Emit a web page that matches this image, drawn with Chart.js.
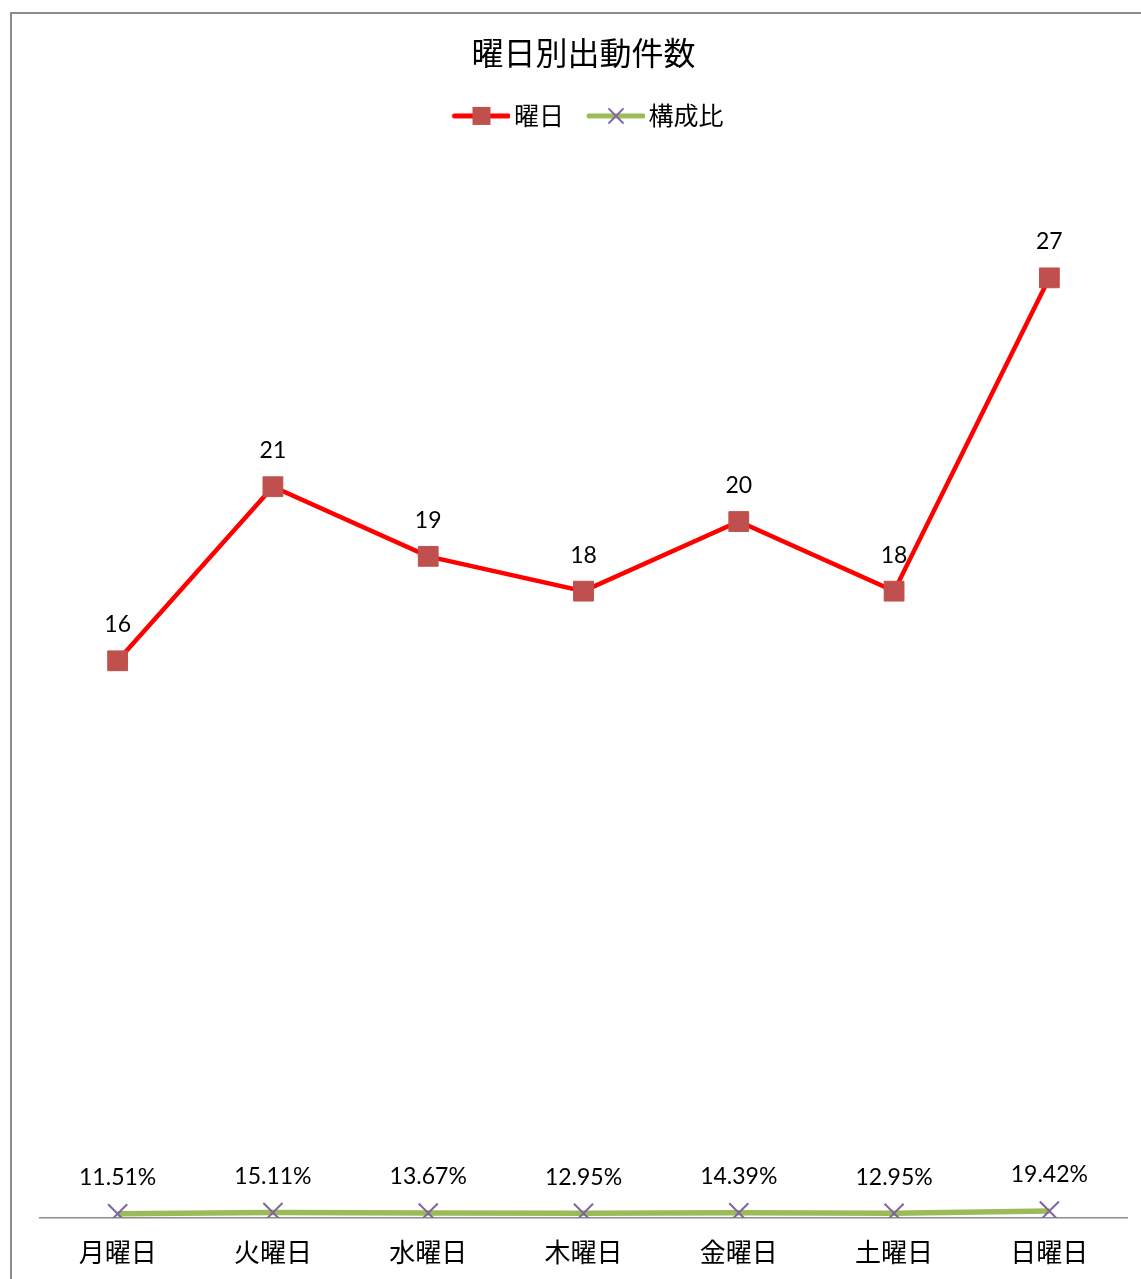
<!DOCTYPE html>
<html>
<head>
<meta charset="utf-8">
<script src="https://cdn.jsdelivr.net/npm/chart.js@4.4.0/dist/chart.umd.min.js"></script>
<style>
  html, body { margin: 0; padding: 0; background: #fff; overflow: hidden; }
  body { width: 1141px; height: 1279px; position: relative; }
  .frame {
    position: absolute; left: 10px; top: 12px; width: 1200px; height: 1300px;
    border-left: 2px solid #8c8c8c; border-top: 2px solid #8c8c8c; box-sizing: border-box;
  }
  .wrap { position: absolute; left: 11px; top: 13px; width: 1144px; height: 1285px; }
</style>
</head>
<body>
<div class="frame"></div>
<div class="wrap"><canvas id="dayChart"></canvas></div>
<script>
const days = ['月曜日', '火曜日', '水曜日', '木曜日', '金曜日', '土曜日', '日曜日'];
const counts = [16, 21, 19, 18, 20, 18, 27];
const shares = [0.1151, 0.1511, 0.1367, 0.1295, 0.1439, 0.1295, 0.1942];

const FONT = "Lato, 'Noto Sans CJK JP', sans-serif";
const CJK = "'Noto Sans CJK JP', sans-serif";

// legend swatch: line with the marker on it (drawn a bit right so text sits close)
function swatch(lineColor, drawMarker) {
  const c = document.createElement('canvas');
  c.width = 76; c.height = 22;
  const g = c.getContext('2d');
  g.strokeStyle = lineColor;
  g.lineWidth = 5;
  g.lineCap = 'round';
  g.beginPath(); g.moveTo(20, 11); g.lineTo(74, 11); g.stroke();
  drawMarker(g);
  return c;
}
const redSwatch = swatch('#ff0000', g => {
  g.fillStyle = '#c0504d';
  g.fillRect(38, 2, 18, 18);
});
const greenSwatch = swatch('#9bbb59', g => {
  g.strokeStyle = '#8064a2';
  g.lineWidth = 1.8;
  g.beginPath();
  g.moveTo(40, 4); g.lineTo(54, 18);
  g.moveTo(54, 4); g.lineTo(40, 18);
  g.stroke();
});

const valueLabels = {
  id: 'valueLabels',
  afterDatasetsDraw(chart) {
    const ctx = chart.ctx;
    ctx.save();
    ctx.font = '23px ' + FONT;
    ctx.fillStyle = '#000';
    ctx.textAlign = 'center';
    ctx.textBaseline = 'middle';
    chart.data.datasets.forEach((ds, i) => {
      const meta = chart.getDatasetMeta(i);
      meta.data.forEach((pt, j) => {
        const v = ds.data[j];
        const txt = i === 0 ? String(v) : (v * 100).toFixed(2) + '%';
        ctx.fillText(txt, pt.x, pt.y - 36);
      });
    });
    ctx.restore();
  }
};

const legendGap = {
  id: 'legendGap',
  beforeInit(chart) {
    const fit = chart.legend.fit;
    chart.legend.fit = function () {
      fit.call(this);
      this.height += 35;
    };
  }
};

new Chart(document.getElementById('dayChart'), {
  type: 'line',
  data: {
    labels: days,
    datasets: [
      {
        label: '曜日',
        data: counts,
        borderColor: '#ff0000',
        borderWidth: 4.5,
        pointStyle: 'rect',
        pointRadius: 14,
        pointBackgroundColor: '#c0504d',
        pointBorderColor: '#c0504d',
        pointBorderWidth: 1,
        tension: 0
      },
      {
        label: '構成比',
        data: shares,
        borderColor: '#9bbb59',
        borderWidth: 5.5,
        pointStyle: 'crossRot',
        pointRadius: 13.5,
        pointBorderColor: '#8064a2',
        pointBorderWidth: 2,
        tension: 0
      }
    ]
  },
  options: {
    responsive: true,
    maintainAspectRatio: false,
    animation: false,
    layout: { padding: { left: 29, right: 28, top: 0, bottom: 11 } },
    scales: {
      x: {
        offset: true,
        grid: { display: false, drawTicks: false },
        border: { display: true, color: '#8c8c8c', width: 1.5 },
        ticks: { color: '#000', font: { family: CJK, size: 26 }, padding: 19 }
      },
      y: { display: false, min: 0, max: 30 }
    },
    plugins: {
      title: {
        display: true,
        text: '曜日別出動件数',
        color: '#000',
        font: { family: CJK, size: 32, weight: 'normal' },
        padding: { top: 21, bottom: 17 }
      },
      legend: {
        position: 'top',
        labels: {
          usePointStyle: true,
          pointStyleWidth: 58,
          color: '#000',
          font: { family: CJK, size: 25 },
          padding: 14,
          generateLabels(chart) {
            return chart.data.datasets.map((ds, i) => ({
              text: ds.label,
              pointStyle: i === 0 ? redSwatch : greenSwatch,
              fillStyle: 'transparent',
              strokeStyle: 'transparent',
              lineWidth: 0,
              fontColor: '#000',
              datasetIndex: i,
              hidden: false
            }));
          }
        }
      },
      tooltip: { enabled: false }
    }
  },
  plugins: [valueLabels, legendGap]
});
</script>
</body>
</html>
